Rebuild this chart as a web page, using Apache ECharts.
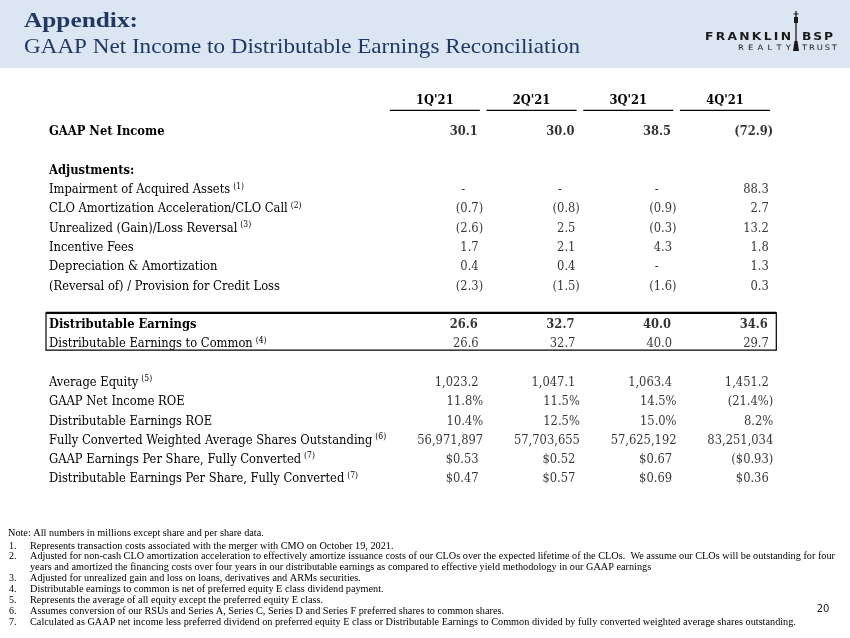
<!DOCTYPE html>
<html>
<head>
<meta charset="utf-8">
<script src="https://cdn.jsdelivr.net/npm/echarts@6/dist/echarts.min.js"></script>
<style>
html, body { margin: 0; padding: 0; background: #fff; }
#main { width: 850px; height: 638px; }
</style>
</head>
<body>
<div id="main"></div>
<script>
// column heads
var quarters = ["1Q'21", "2Q'21", "3Q'21", "4Q'21"];

// values per row (null = dash), $ in millions unless noted
var gaapNetIncome = [30.1, 30.0, 38.5, -72.9];
var impairment = [null, null, null, 88.3];
var cloAmortization = [-0.7, -0.8, -0.9, 2.7];
var unrealizedGainLoss = [-2.6, 2.5, -0.3, 13.2];
var incentiveFees = [1.7, 2.1, 4.3, 1.8];
var depreciation = [0.4, 0.4, null, 1.3];
var creditLoss = [-2.3, -1.5, -1.6, 0.3];
var distributableEarnings = [26.6, 32.7, 40.0, 34.6];
var distToCommon = [26.6, 32.7, 40.0, 29.7];
var averageEquity = [1023.2, 1047.1, 1063.4, 1451.2];
var gaapRoe = [11.8, 11.5, 14.5, -21.4];
var deRoe = [10.4, 12.5, 15.0, 8.2];
var sharesOutstanding = [56971897, 57703655, 57625192, 83251034];
var gaapEps = [0.53, 0.52, 0.67, -0.93];
var deEps = [0.47, 0.57, 0.69, 0.36];

// rows: label, values, format, bold, footnote
var table = [
    ['GAAP Net Income', gaapNetIncome, 'acct', true],
    [' '],
    ['Adjustments:', null, null, true],
    ['Impairment of Acquired Assets', impairment, 'acct', false, '(1)'],
    ['CLO Amortization Acceleration/CLO Call', cloAmortization, 'acct', false, '(2)'],
    ['Unrealized (Gain)/Loss Reversal', unrealizedGainLoss, 'acct', false, '(3)'],
    ['Incentive Fees', incentiveFees, 'acct'],
    ['Depreciation & Amortization', depreciation, 'acct'],
    ['(Reversal of) / Provision for Credit Loss', creditLoss, 'acct'],
    ['  '],
    ['Distributable Earnings', distributableEarnings, 'acct', true],
    ['Distributable Earnings to Common', distToCommon, 'acct', false, '(4)'],
    ['   '],
    ['Average Equity', averageEquity, 'acct', false, '(5)'],
    ['GAAP Net Income ROE', gaapRoe, 'pct'],
    ['Distributable Earnings ROE', deRoe, 'pct'],
    ['Fully Converted Weighted Average Shares Outstanding', sharesOutstanding, 'int', false, '(6)'],
    ['GAAP Earnings Per Share, Fully Converted', gaapEps, 'usd', false, '(7)'],
    ['Distributable Earnings Per Share, Fully Converted', deEps, 'usd', false, '(7)']
];

var notes = [
    ['', 'Note: All numbers in millions except share and per share data.'],
    ['1.', 'Represents transaction costs associated with the merger with CMO on October 19, 2021.'],
    ['2.', 'Adjusted for non-cash CLO amortization acceleration to effectively amortize issuance costs of our CLOs over the expected lifetime of the CLOs.  We assume our CLOs will be outstanding for four'],
    ['', 'years and amortized the financing costs over four years in our distributable earnings as compared to effective yield methodology in our GAAP earnings'],
    ['3.', 'Adjusted for unrealized gain and loss on loans, derivatives and ARMs securities.'],
    ['4.', 'Distributable earnings to common is net of preferred equity E class dividend payment.'],
    ['5.', 'Represents the average of all equity except the preferred equity E class.'],
    ['6.', 'Assumes conversion of our RSUs and Series A, Series C, Series D and Series F preferred shares to common shares.'],
    ['7.', 'Calculated as GAAP net income less preferred dividend on preferred equity E class or Distributable Earnings to Common divided by fully converted weighted average shares outstanding.']
];

var rowLabels = table.map(function (r) { return r[0]; });

// text measuring, used to size fonts to the slide
var ctx = document.createElement('canvas').getContext('2d');
function measure(text, font) {
    ctx.font = font;
    return ctx.measureText(text).width;
}

var tableFont = 'DejaVu Serif Condensed';
var fs = 13 * 323 / measure('Fully Converted Weighted Average Shares Outstanding', '13px "' + tableFont + '"');
fs = Math.round(fs * 10) / 10;

var gridLeft = 386.5, gridRight = 76.7, gridTop = 122.4, gridBottom = 149.3;
var labelX = 49;

function acct(v, dec, prefix) {
    var s = prefix + Math.abs(v).toLocaleString('en-US', {minimumFractionDigits: dec, maximumFractionDigits: dec});
    return v < 0 ? '(' + s + ')' : s;
}

function cellText(p) {
    var d = p.data;
    var B = d.bold ? 'b' : 'n';
    var P = d.bold ? 'pb' : 'p';
    var v = d.raw;
    if (v === null) return '{' + B + '|-}{d| }';
    var s, pad = false;
    if (d.kind === 'acct') { s = acct(v, 1, ''); pad = v >= 0; }
    else if (d.kind === 'usd') { s = acct(v, 2, '$'); pad = v >= 0; }
    else if (d.kind === 'pct') { s = v < 0 ? '(' + Math.abs(v).toFixed(1) + '%)' : v.toFixed(1) + '%'; }
    else { s = v.toLocaleString('en-US'); }
    return '{' + B + '|' + s + '}' + (pad ? '{' + P + '|)}' : '');
}

var cells = [];
table.forEach(function (r) {
    if (!r[1]) return;
    r[1].forEach(function (v, i) {
        cells.push({value: [quarters[i], r[0]], raw: v, kind: r[2], bold: !!r[3]});
    });
});

var chart = echarts.init(document.getElementById('main'));

var option = {
    animation: false,
    backgroundColor: '#fff',
    grid: {left: gridLeft, right: gridRight, top: gridTop, bottom: gridBottom},
    xAxis: {
        type: 'category',
        data: quarters,
        position: 'top',
        axisLine: {show: false},
        axisTick: {show: false},
        splitLine: {show: false},
        axisLabel: {
            interval: 0,
            margin: 11,
            formatter: function (q) { return '{h|' + q + '}\n{u| }'; },
            rich: {
                h: {fontFamily: tableFont, fontWeight: 'bold', fontSize: fs, color: '#000', lineHeight: 17},
                u: {width: 90, height: 1.4, lineHeight: 2, fontSize: 1, backgroundColor: '#000'}
            }
        }
    },
    yAxis: {
        type: 'category',
        data: rowLabels,
        inverse: true,
        axisLine: {show: false},
        axisTick: {show: false},
        splitLine: {show: false},
        axisLabel: {
            interval: 0,
            align: 'left',
            margin: gridLeft - labelX,
            formatter: function (v) {
                var r = table[rowLabels.indexOf(v)];
                if (!v.trim()) return '';
                var s = '{' + (r[3] ? 'b' : 'n') + '|' + v + '}';
                if (r[4]) s += '{s|' + r[4] + '}';
                return s;
            },
            rich: {
                n: {fontFamily: tableFont, fontSize: fs, color: '#000', lineHeight: 16},
                b: {fontFamily: tableFont, fontSize: fs, fontWeight: 'bold', color: '#000', lineHeight: 16},
                s: {fontFamily: tableFont, fontSize: 8.5, color: '#000', lineHeight: 16, verticalAlign: 'top', padding: [0, 0, 0, 3]}
            }
        }
    },
    series: [{
        type: 'scatter',
        data: cells,
        symbolSize: 1,
        silent: true,
        itemStyle: {color: 'rgba(0,0,0,0)'},
        label: {
            show: true,
            position: 'inside',
            align: 'right',
            offset: [48.3, 0],
            formatter: cellText,
            rich: {
                n: {fontFamily: tableFont, fontSize: fs, color: '#000'},
                b: {fontFamily: tableFont, fontSize: fs, fontWeight: 'bold', color: '#000'},
                p: {fontFamily: tableFont, fontSize: fs, color: 'rgba(0,0,0,0)'},
                pb: {fontFamily: tableFont, fontSize: fs, fontWeight: 'bold', color: 'rgba(0,0,0,0)'},
                d: {width: 18}
            }
        }
    }]
};
chart.setOption(option);

// decorations: header band, titles, box, notes, logo
var g = [];
g.push({type: 'rect', shape: {x: 0, y: 0, width: 850, height: 68}, style: {fill: '#dce6f2'}, z: -10});

var t1 = 'Appendix:', t2 = 'GAAP Net Income to Distributable Earnings Reconciliation';
var s1 = 114 / measure(t1, 'bold 22px "Liberation Serif"');
var s2 = 556 / measure(t2, '22px "Liberation Serif"');
g.push({type: 'text', x: 24, y: 21, scaleX: s1, style: {text: t1, fontFamily: 'Liberation Serif', fontWeight: 'bold', fontSize: 22, fill: '#1f3864', verticalAlign: 'middle'}});
g.push({type: 'text', x: 24, y: 47, scaleX: s2, style: {text: t2, fontFamily: 'Liberation Serif', fontSize: 22, fill: '#1f3864', verticalAlign: 'middle'}});

var yDE = chart.convertToPixel({yAxisIndex: 0}, 'Distributable Earnings');
var yDC = chart.convertToPixel({yAxisIndex: 0}, 'Distributable Earnings to Common');
var boxL = labelX - 3, boxR = 850 - gridRight + 3;
var boxT = yDE - 12, boxB = yDC + 6;
g.push({type: 'rect', shape: {x: boxL, y: boxT, width: boxR - boxL, height: boxB - boxT}, style: {fill: null, stroke: '#000', lineWidth: 1.2}});
g.push({type: 'line', shape: {x1: boxL, y1: boxT, x2: boxR, y2: boxT}, style: {stroke: '#000', lineWidth: 2.2}});

var noteFont = 'Liberation Serif', noteSize = 10;
var ns = 805 / measure(notes[2][1], noteSize + 'px "' + noteFont + '"');
notes.forEach(function (n, i) {
    var y = 533 + i * 10.9;
    if (i > 0) y += 2;
    if (n[0]) g.push({type: 'text', x: 9, y: y, style: {text: n[0], fontFamily: noteFont, fontSize: noteSize, fill: '#000', verticalAlign: 'middle'}});
    g.push({type: 'text', x: n[0] || i > 0 ? 30 : 8, y: y, scaleX: ns, style: {text: n[1], fontFamily: noteFont, fontSize: noteSize, fill: '#000', verticalAlign: 'middle'}});
});

// logo: letters spread evenly between x0 and x1
function spaced(word, x0, x1, y, size, weight) {
    var font = weight + ' ' + size + 'px "DejaVu Sans"';
    var sx = 1.12;
    var widths = word.split('').map(function (ch) { return measure(ch, font) * sx; });
    var total = widths.reduce(function (a, b) { return a + b; }, 0);
    var gap = (x1 - x0 - total) / (word.length - 1);
    var x = x0;
    word.split('').forEach(function (ch, i) {
        g.push({type: 'text', x: x, y: y, scaleX: sx, style: {text: ch, fontFamily: 'DejaVu Sans', fontWeight: weight, fontSize: size, fill: '#1a1a1a', verticalAlign: 'middle'}});
        x += widths[i] + gap;
    });
}
spaced('FRANKLIN', 705, 791, 37, 11, 'bold');
spaced('BSP', 802, 833, 37, 11, 'bold');
spaced('REALTY', 738, 791, 48, 7.5, 'normal');
spaced('TRUST', 802, 837, 48, 7.5, 'normal');
g.push({type: 'line', shape: {x1: 796, y1: 11, x2: 796, y2: 50}, style: {stroke: '#1a1a1a', lineWidth: 1.3}});
g.push({type: 'line', shape: {x1: 793.5, y1: 14, x2: 798.5, y2: 14}, style: {stroke: '#1a1a1a', lineWidth: 1}});
g.push({type: 'rect', shape: {x: 794, y: 17, width: 4, height: 6}, style: {fill: '#1a1a1a'}});
g.push({type: 'polygon', shape: {points: [[793, 51], [799, 51], [797.5, 41], [794.5, 41]]}, style: {fill: '#1a1a1a'}});

g.push({type: 'text', x: 823, y: 609, style: {text: '20', fontFamily: 'DejaVu Sans', fontSize: 10, fill: '#222', align: 'center', verticalAlign: 'middle'}});

chart.setOption({graphic: g});
</script>
</body>
</html>
